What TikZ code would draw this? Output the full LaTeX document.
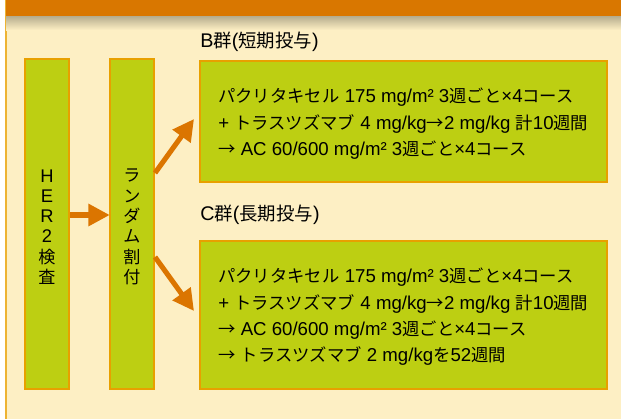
\documentclass[tikz,border=0pt]{standalone}
\usepackage{fontspec}
\setmainfont{Noto Sans CJK JP}
\newfontfamily\lat[Scale=1.075]{Liberation Sans}
\usetikzlibrary{arrows.meta,calc}
\definecolor{bgcream}{HTML}{FDEFC4}
\definecolor{barorange}{HTML}{D97700}
\definecolor{boxlime}{HTML}{BDCF12}
\definecolor{boxedge}{HTML}{E8A000}
\definecolor{arrorange}{HTML}{DB7500}
\tikzset{
  lbox/.style={draw=boxedge, line width=2.2pt, fill=boxlime, inner sep=0pt},
  vtext/.style={align=center, font=\fontsize{12.8pt}{15.2pt}\selectfont},
  ttext/.style={anchor=west, align=left, inner sep=0pt, font=\fontsize{13pt}{19.8pt}\selectfont},
  glabel/.style={anchor=west, inner sep=0pt, font=\fontsize{13.8pt}{16pt}\selectfont},
  bigarrow/.style={draw=arrorange, line width=3.8pt, -{Triangle[length=16pt,width=16pt]}, shorten >=0pt},
}
\begin{document}
\begin{tikzpicture}[x=0.75pt,y=-0.75pt]
\useasboundingbox (0,0) rectangle (621,419);
% background
\fill[white] (0,0) rectangle (621,419);
\fill[bgcream] (6,0) rectangle (621,419);
\draw[boxedge!80, line width=0.9pt] (6,0) -- (6,419);
% shadow under the bar
\shade[top color=black!30!bgcream, bottom color=bgcream] (6,15) rectangle (621,30);
\fill[barorange] (6,0) rectangle (621,15.5);
% boxes
\draw[lbox] (25,59) rectangle (69,389);
\node (her2) at (47,224) [minimum width=44*0.75pt, minimum height=330*0.75pt] {};
\node[vtext] at (47,227) {{\lat H}\\{\lat E}\\{\lat R}\\{\lat 2}\\検\\査};
\draw[lbox] (110,59) rectangle (154,389);
\node (rand) at (132,224) [minimum width=44*0.75pt, minimum height=330*0.75pt] {};
\node[vtext] at (132,227) {ラ\\ン\\ダ\\ム\\割\\付};
\draw[lbox] (200,61) rectangle (607,182);
\node (bbox) at (403.5,121.5) [minimum width=407*0.75pt, minimum height=121*0.75pt] {};
\draw[lbox] (200,241) rectangle (607,389);
\node (cbox) at (403.5,315) [minimum width=407*0.75pt, minimum height=148*0.75pt] {};
% labels
\node[glabel] (blabel) at (200,42) {{\lat B}群{\lat (}短期投与{\lat )}};
\node[glabel] (clabel) at (200,215) {{\lat C}群{\lat (}長期投与{\lat )}};
% box texts
\node[ttext] (btext) at (218,124) {パクリタキセル{\lat\ 175 mg/m² 3}週ごと{\lat ×4}コース\\{\lat +\ }トラスツズマブ{\lat\ 4 mg/kg}→{\lat 2 mg/kg\ }計{\lat 10}週間\\→{\lat\ AC 60/600 mg/m² 3}週ごと{\lat ×4}コース};
\node[ttext] (ctext) at (218,317) {パクリタキセル{\lat\ 175 mg/m² 3}週ごと{\lat ×4}コース\\{\lat +\ }トラスツズマブ{\lat\ 4 mg/kg}→{\lat 2 mg/kg\ }計{\lat 10}週間\\→{\lat\ AC 60/600 mg/m² 3}週ごと{\lat ×4}コース\\→{\lat\ }トラスツズマブ{\lat\ 2 mg/kg}を{\lat 52}週間};
% arrows
\coordinate (r1) at (155,173);
\coordinate (r2) at (155,257);
\coordinate (t1) at (194,119);
\coordinate (t2) at (194,311);
\draw[bigarrow] (her2.east |- 0,215) ++(1,0) -- (rand.west |- 0,215);
\draw[bigarrow] (r1) -- (t1);
\draw[bigarrow] (r2) -- (t2);
\end{tikzpicture}
\end{document}
